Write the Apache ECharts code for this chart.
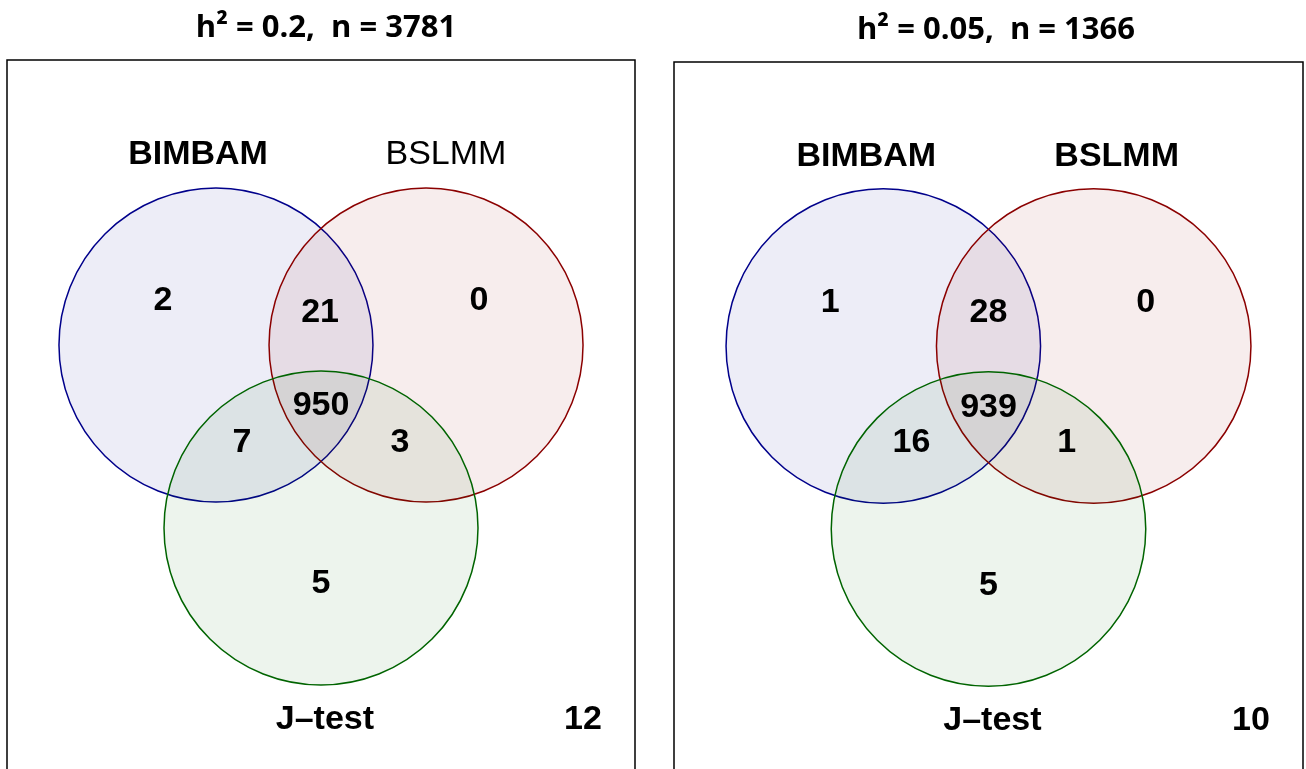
<!DOCTYPE html>
<html>
<head>
<meta charset="utf-8">
<script src="https://cdn.jsdelivr.net/npm/echarts@6/dist/echarts.min.js"></script>
<style>
  html, body { margin: 0; padding: 0; background: #fff; }
  #chart { width: 1306px; height: 769px; }
</style>
</head>
<body>
<div id="chart"></div>
<script>
// region order: only BIMBAM, BIMBAM+BSLMM, only BSLMM, all three, BIMBAM+J, BSLMM+J, only J, none
var regionNames = ['BIMBAM', 'BIMBAM&BSLMM', 'BSLMM', 'all', 'BIMBAM&J', 'BSLMM&J', 'J-test', 'none']
var countsLeft = [2, 21, 0, 950, 7, 3, 5, 12]
var countsRight = [1, 28, 0, 939, 16, 1, 5, 10]
var setNames = ['BIMBAM', 'BSLMM', 'J\u2013test']
var titles = ['h\u00b2 = 0.2,  n = 3781', 'h\u00b2 = 0.05,  n = 1366']

// layout (units of circle radius, origin between the two upper circles)
var circleCenters = [[-0.669, 0], [0.669, 0], [0, -1.166]]
var regionPosLeft = [[-1.006, 0.28], [-0.006, 0.204], [1.006, 0.28], [0, -0.389], [-0.503, -0.624], [0.503, -0.624], [0, -1.522], [1.669, -2.389]]
var regionPosRight = [[-1.006, 0.274], [0, 0.21], [1.0, 0.274], [0, -0.395], [-0.49, -0.618], [0.497, -0.618], [0, -1.529], [1.669, -2.389]]
var setLabelPosLeft = [[-0.783, 1.21], [0.796, 1.21], [0.025, -2.389]]
var setLabelPosRight = [[-0.777, 1.204], [0.815, 1.204], [0.025, -2.389]]
var setBoldLeft = [true, false, true]
var setBoldRight = [true, true, true]

var strokeColors = ['#00008b', '#8b0000', '#006400']
var fillColors = ['rgba(0,0,139,0.07)', 'rgba(139,0,0,0.07)', 'rgba(0,100,0,0.07)']

var chart = echarts.init(document.getElementById('chart'))

var grids = [
  { left: 7, top: 60, width: 628, height: 740 },
  { left: 674, top: 62, width: 629, height: 740 }
]
var yTop = [(345 - 60) / 157, (346 - 62) / 157]

function buildSeries(idx, counts, regionPos, labelPos, bold) {
  var circles = circleCenters.map(function(c, i) { return [c[0], c[1], 1, i] })
  var nums = counts.map(function(v, i) { return [regionPos[i][0], regionPos[i][1], v] })
  var sets = setNames.map(function(n, i) {
    return {
      value: [labelPos[i][0], labelPos[i][1], n],
      label: { fontWeight: bold[i] ? 'bold' : 'normal' }
    }
  })
  return [{
    type: 'custom',
    xAxisIndex: idx,
    yAxisIndex: idx,
    clip: false,
    silent: true,
    data: circles,
    encode: { x: 0, y: 1 },
    renderItem: function(params, api) {
      var p = api.coord([api.value(0), api.value(1)])
      var s = api.size([api.value(2), api.value(2)])
      var k = api.value(3)
      return {
        type: 'circle',
        shape: { cx: p[0], cy: p[1], r: s[0] },
        style: { fill: fillColors[k], stroke: strokeColors[k], lineWidth: 1.5 }
      }
    }
  }, {
    type: 'scatter',
    xAxisIndex: idx,
    yAxisIndex: idx,
    clip: false,
    silent: true,
    symbolSize: 0,
    itemStyle: { opacity: 1 },
    data: nums,
    label: {
      show: true,
      position: 'inside',
      formatter: function(p) { return p.value[2] },
      color: '#000',
      fontFamily: 'Liberation Sans',
      fontWeight: 'bold',
      fontSize: 34
    }
  }, {
    type: 'scatter',
    xAxisIndex: idx,
    yAxisIndex: idx,
    clip: false,
    silent: true,
    symbolSize: 0,
    itemStyle: { opacity: 1 },
    data: sets,
    label: {
      show: true,
      position: 'inside',
      formatter: function(p) { return p.value[2] },
      color: '#000',
      fontFamily: 'Liberation Sans',
      fontSize: 34
    }
  }]
}

chart.setOption({
  animation: false,
  backgroundColor: '#fff',
  graphic: titles.map(function(t, i) {
    return {
      type: 'text',
      x: i === 0 ? 326 : 996,
      y: i === 0 ? 28 : 30,
      style: {
        text: t,
        align: 'center',
        verticalAlign: 'middle',
        fill: '#000',
        fontFamily: 'Open Sans',
        fontWeight: 'bold',
        fontSize: 31
      }
    }
  }),
  grid: grids.map(function(g) {
    return Object.assign({
      show: true,
      borderColor: '#000',
      borderWidth: 1.5,
      backgroundColor: 'transparent',
      outerBoundsMode: 'none',
      containLabel: false
    }, g)
  }),
  xAxis: [0, 1].map(function(i) {
    return { type: 'value', gridIndex: i, min: -2, max: 2, show: false, splitLine: { show: false } }
  }),
  yAxis: [0, 1].map(function(i) {
    return { type: 'value', gridIndex: i, max: yTop[i], min: yTop[i] - 740 / 157, show: false, splitLine: { show: false } }
  }),
  series: [].concat(
    buildSeries(0, countsLeft, regionPosLeft, setLabelPosLeft, setBoldLeft),
    buildSeries(1, countsRight, regionPosRight, setLabelPosRight, setBoldRight)
  )
})
</script>
</body>
</html>
